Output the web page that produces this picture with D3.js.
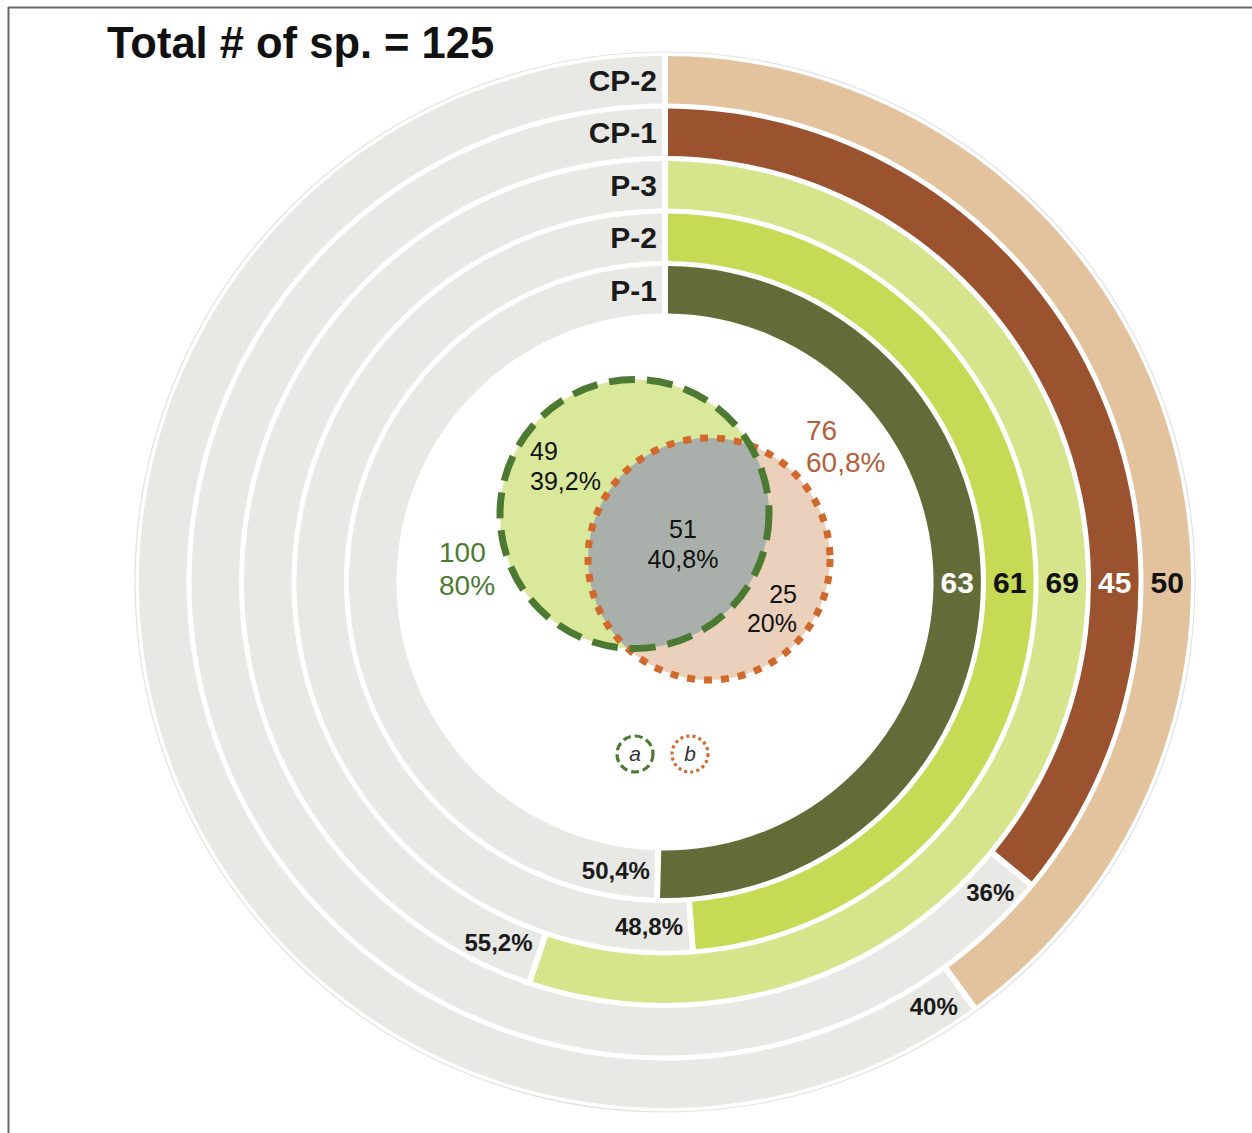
<!DOCTYPE html>
<html>
<head>
<meta charset="utf-8">
<script src="https://cdn.jsdelivr.net/npm/d3@7"></script>
<style>
  html, body { margin: 0; padding: 0; background: #fff; }
  svg { display: block; }
  text { font-family: "Liberation Sans", Arial, sans-serif; }
</style>
</head>
<body>
<div id="chart"></div>
<script>
// ---------------- data ----------------
const totalSpecies = 125;
const categories = ["P-1", "P-2", "P-3", "CP-1", "CP-2"];
const counts = [63, 61, 69, 45, 50];
const pctLabels = ["50,4%", "48,8%", "55,2%", "36%", "40%"];

const vennSets = ["a", "b"];
const vennTotals = [100, 76];
const vennTotalPct = ["80%", "60,8%"];
const vennParts = ["49", "51", "25"];          // a only, a∩b, b only
const vennPartPct = ["39,2%", "40,8%", "20%"];

// ---------------- styles ----------------
const barColors = ["#636b38", "#c6da55", "#d6e58c", "#9a522f", "#e2c39e"];
const valueTextColors = ["#ffffff", "#111111", "#111111", "#ffffff", "#111111"];
const trackColor = "#e8e8e5";

const W = 1252, H = 1133;
const cx = 665, cy = 582;

const svg = d3.select("#chart").append("svg")
  .attr("width", W).attr("height", H);

// frame
svg.append("line").attr("x1", 8).attr("x2", W).attr("y1", 7.5).attr("y2", 7.5)
  .attr("stroke", "#666").attr("stroke-width", 2);
svg.append("line").attr("x1", 8.5).attr("x2", 8.5).attr("y1", 7).attr("y2", H)
  .attr("stroke", "#666").attr("stroke-width", 2);

// title
svg.append("text").attr("x", 107).attr("y", 58)
  .attr("font-size", 43.5).attr("font-weight", "bold").attr("fill", "#111")
  .text("Total # of sp. = " + totalSpecies);

// scales
const rScale = d3.scaleBand().domain(categories).range([268.5, 526]).paddingInner(0.095).paddingOuter(0);
const aScale = d3.scaleLinear().domain([0, totalSpecies]).range([0, 2 * Math.PI]);

const g = svg.append("g").attr("transform", `translate(${cx},${cy})`);

// faint outer circle
g.append("circle").attr("r", 530).attr("fill", "none").attr("stroke", "#e2e2e0").attr("stroke-width", 1.2);

const arc = d3.arc()
  .innerRadius(d => rScale(d.cat))
  .outerRadius(d => rScale(d.cat) + rScale.bandwidth())
  .startAngle(d => d.a0)
  .endAngle(d => d.a1)
  .padAngle(0.06).padRadius(100);

const rings = categories.map((c, i) => ({ cat: c, i, v: counts[i] }));

// gray tracks
g.selectAll("path.track").data(rings).join("path")
  .attr("class", "track")
  .attr("d", d => arc({ cat: d.cat, a0: aScale(d.v), a1: 2 * Math.PI }))
  .attr("fill", trackColor);

// colored bars
g.selectAll("path.bar").data(rings).join("path")
  .attr("class", "bar")
  .attr("d", d => arc({ cat: d.cat, a0: 0, a1: aScale(d.v) }))
  .attr("fill", d => barColors[d.i]);

// category labels
g.selectAll("text.cat").data(rings).join("text")
  .attr("class", "cat")
  .attr("x", -8)
  .attr("y", d => -(rScale(d.cat) + rScale.bandwidth() / 2))
  .attr("dy", "0.36em")
  .attr("text-anchor", "end")
  .attr("font-size", 30).attr("font-weight", "bold").attr("fill", "#1a1a1a")
  .text(d => d.cat);

// value labels at 3 o'clock
g.selectAll("text.val").data(rings).join("text")
  .attr("class", "val")
  .attr("x", d => rScale(d.cat) + rScale.bandwidth() / 2)
  .attr("y", 0)
  .attr("dy", "0.36em")
  .attr("text-anchor", "middle")
  .attr("font-size", 30).attr("font-weight", "bold")
  .attr("fill", d => valueTextColors[d.i])
  .text(d => d.v);

// percentage labels just past bar ends
const pctText = g.selectAll("text.pct").data(rings).join("text")
  .attr("class", "pct")
  .attr("text-anchor", "middle")
  .attr("font-size", 24).attr("font-weight", "bold").attr("fill", "#1a1a1a")
  .text(d => pctLabels[d.i]);
pctText.each(function (d) {
  const w = this.getComputedTextLength();
  const rm = rScale(d.cat) + rScale.bandwidth() / 2;
  const a = aScale(d.v) + (w / 2 + 8) / rm;
  d3.select(this)
    .attr("x", rm * Math.sin(a))
    .attr("y", -rm * Math.cos(a))
    .attr("dy", "0.36em");
});

// ---------------- Venn ----------------
const vennGeom = [
  { cx: 634.5, cy: 514, r: 134.5, fill: "#d9e89b", stroke: "#4d7a33", dash: "26 12", text: "#4d7a33" },
  { cx: 709, cy: 559, r: 121, fill: "#ebd0bb", stroke: "#d0692b", dash: "8 9", text: "#b3603a" }
];

const defs = svg.append("defs");
defs.append("clipPath").attr("id", "clipA")
  .append("circle").attr("cx", vennGeom[0].cx).attr("cy", vennGeom[0].cy).attr("r", vennGeom[0].r);

const vg = svg.append("g");
vg.selectAll("circle.vfill").data(vennGeom).join("circle")
  .attr("class", "vfill")
  .attr("cx", d => d.cx).attr("cy", d => d.cy).attr("r", d => d.r)
  .attr("fill", d => d.fill);
vg.append("circle")
  .attr("cx", vennGeom[1].cx).attr("cy", vennGeom[1].cy).attr("r", vennGeom[1].r)
  .attr("clip-path", "url(#clipA)")
  .attr("fill", "#a9b0ab");
// strokes: b first, then a on top
[1, 0].forEach(i => {
  const d = vennGeom[i];
  vg.append("circle")
    .attr("cx", d.cx).attr("cy", d.cy).attr("r", d.r)
    .attr("fill", "none").attr("stroke", d.stroke).attr("stroke-width", 7)
    .attr("stroke-dasharray", d.dash);
});

// venn labels
function twoLine(x, y, anchor, l1, l2, size, color, weight, gap) {
  const t = svg.append("text").attr("text-anchor", anchor)
    .attr("font-size", size).attr("fill", color).attr("font-weight", weight);
  t.append("tspan").attr("x", x).attr("y", y).text(l1);
  t.append("tspan").attr("x", x).attr("y", y + gap).text(l2);
}
twoLine(439, 562, "start", String(vennTotals[0]), vennTotalPct[0], 28, vennGeom[0].text, "normal", 33);
twoLine(806, 440, "start", String(vennTotals[1]), vennTotalPct[1], 28, vennGeom[1].text, "normal", 32);
twoLine(530, 460, "start", vennParts[0], vennPartPct[0], 25, "#111", "normal", 30);
twoLine(683, 538, "middle", vennParts[1], vennPartPct[1], 25, "#111", "normal", 30);
twoLine(797, 603, "end", vennParts[2], vennPartPct[2], 25, "#111", "normal", 29);

// legend
const legend = [
  { x: 635, y: 754, stroke: "#4d7a33", dash: "8 4", label: vennSets[0] },
  { x: 690, y: 754, stroke: "#d0692b", dash: "3 3.2", label: vennSets[1] }
];
legend.forEach(l => {
  svg.append("circle").attr("cx", l.x).attr("cy", l.y).attr("r", 18)
    .attr("fill", "none").attr("stroke", l.stroke).attr("stroke-width", 3.2)
    .attr("stroke-dasharray", l.dash);
  svg.append("text").attr("x", l.x).attr("y", l.y).attr("dy", "0.35em")
    .attr("text-anchor", "middle").attr("font-size", 21).attr("font-style", "italic")
    .attr("fill", "#333").text(l.label);
});
</script>
</body>
</html>
